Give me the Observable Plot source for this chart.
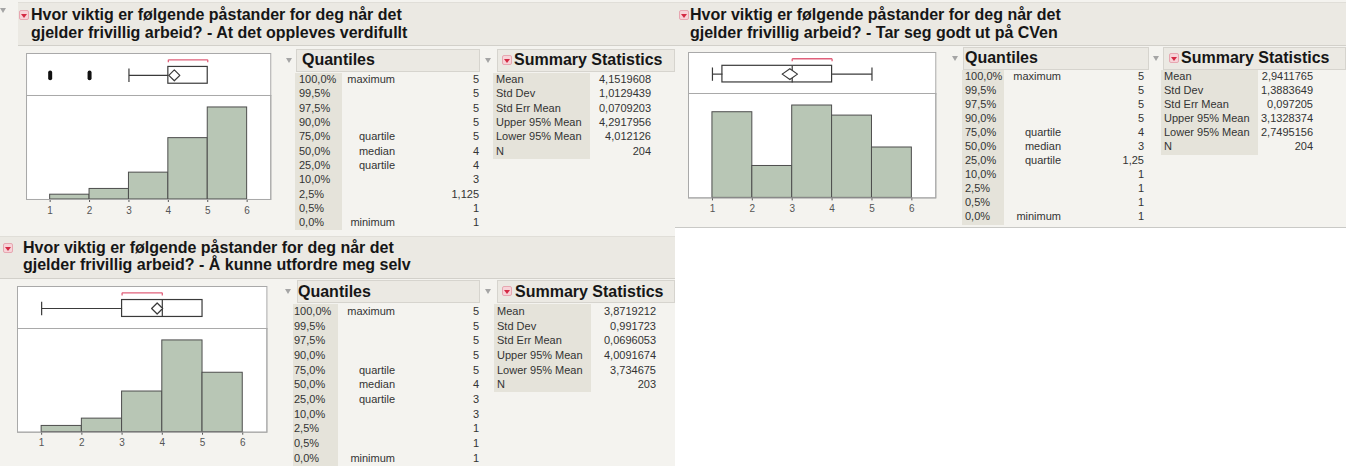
<!DOCTYPE html>
<html><head><meta charset="utf-8">
<script src="https://cdn.jsdelivr.net/npm/d3@7"></script>
<script src="https://cdn.jsdelivr.net/npm/@observablehq/plot@0.6"></script>
<style>
body{margin:0;background:#fff;font-family:"Liberation Sans",Arial,Helvetica,sans-serif;}
#root{position:relative;width:1346px;height:466px;overflow:hidden;background:#fff;}
#root div{box-sizing:border-box;}
</style></head><body><div id="root"></div>
<script>
// ---------------- DATA ----------------
const titleLine1 = "Hvor viktig er følgende påstander for deg når det";
const subtitles = [
  "gjelder frivillig arbeid? - At det oppleves verdifullt",
  "gjelder frivillig arbeid? - Tar seg godt ut på CVen",
  "gjelder frivillig arbeid? - Å kunne utfordre meg selv"
];
const levels = [1, 2, 3, 4, 5];
const xTicks = [1, 2, 3, 4, 5, 6];
const counts1 = [5, 11, 28, 64, 96];
const counts2 = [51, 19, 55, 49, 30];
const counts3 = [6, 13, 39, 88, 57];
// box: lower whisker, Q1, median, Q3, upper whisker
const box1 = [3, 4, 4, 5, 5];
const box2 = [1, 1.25, 3, 4, 5];
const box3 = [1, 3, 4, 5, 5];
// lower 95%, mean, upper 95%
const meanCI1 = [4.012126, 4.1519608, 4.2917956];
const meanCI2 = [2.7495156, 2.9411765, 3.1328374];
const meanCI3 = [3.734675, 3.8719212, 4.0091674];
const shortestHalf1 = [4, 5];
const shortestHalf2 = [3, 4];
const shortestHalf3 = [3, 4];
const outliers1 = [1, 2];
const outliers2 = [];
const outliers3 = [];
const quantilePcts = ["100,0%","99,5%","97,5%","90,0%","75,0%","50,0%","25,0%","10,0%","2,5%","0,5%","0,0%"];
const quantileNames = ["maximum","","","","quartile","median","quartile","","","","minimum"];
const quantiles1 = ["5","5","5","5","5","4","4","3","1,125","1","1"];
const quantiles2 = ["5","5","5","5","4","3","1,25","1","1","1","1"];
const quantiles3 = ["5","5","5","5","5","4","3","3","1","1","1"];
const statNames = ["Mean","Std Dev","Std Err Mean","Upper 95% Mean","Lower 95% Mean","N"];
const stats1 = ["4,1519608","1,0129439","0,0709203","4,2917956","4,012126","204"];
const stats2 = ["2,9411765","1,3883649","0,097205","3,1328374","2,7495156","204"];
const stats3 = ["3,8719212","0,991723","0,0696053","4,0091674","3,734675","203"];

// ---------------- LAYOUT ----------------
const panels = [
  {bg:[0,0,675,236], header:[18,2,657,44], icon:[19,10], titleX:31, titleY:[15,33], outerTri:[3,10],
   frame:{L:25.7,R:270,T:53,D:95,B:198},
   q:{tri:[289,60], band:[296,49,184,23], titleX:302, titleY:60, colBg:[295,73,47,157], pctX:299, nameR:395, valR:479, row0:80, dy:14.3},
   s:{tri:[488,60], icon:[502,55], band:[497,49,178,23], titleX:514, titleY:60, colBg:[493,73,97,86], nameX:496, valR:651, row0:80, dy:14.3},
   counts:counts1, box:box1, ci:meanCI1, sh:shortestHalf1, out:outliers1, quant:quantiles1, stats:stats1, sub:subtitles[0]},
  {bg:[675,0,671,228], header:[675,2,671,44], icon:[679,10], titleX:690, titleY:[15,33],
   frame:{L:687.7,R:935,T:51.7,D:93.3,B:196.7},
   q:{tri:[955,58], band:[963,47,186,23], titleX:965, titleY:58, colBg:[962,70,42,155], pctX:965, nameR:1061, valR:1144, row0:77, dy:14},
   s:{tri:[1156,58], icon:[1169,53], band:[1163,47,183,23], titleX:1181, titleY:58, colBg:[1161,70,97,85], nameX:1164, valR:1313, row0:77, dy:14},
   counts:counts2, box:box2, ci:meanCI2, sh:shortestHalf2, out:outliers2, quant:quantiles2, stats:stats2, sub:subtitles[1]},
  {bg:[0,236,675,230], header:[0,236,675,43], icon:[3,243], titleX:23, titleY:[248,265],
   frame:{L:17.3,R:266.7,T:286,D:328.3,B:431},
   q:{tri:[288,291], band:[297,280,183,23], titleX:298, titleY:291.5, colBg:[293,304,45,162], pctX:294, nameR:395, valR:479, row0:311.7, dy:14.7},
   s:{tri:[488,291], icon:[502,286], band:[497,280,178,23], titleX:515, titleY:291.5, colBg:[494,304,97,88], nameX:497, valR:656, row0:311.7, dy:14.7},
   counts:counts3, box:box3, ci:meanCI3, sh:shortestHalf3, out:outliers3, quant:quantiles3, stats:stats3, sub:subtitles[2]}
];

const root = document.getElementById("root");
function rect(x,y,w,h,style){const d=document.createElement("div");d.style.cssText=`position:absolute;left:${x}px;top:${y}px;width:${w}px;height:${h}px;${style||""}`;root.appendChild(d);return d;}
function text(str,x,y,o={}){
  const size=o.size||11, w=420, align=o.align||"left";
  const left = align==="left"?x:(align==="right"?x-w:x-w/2);
  const d=document.createElement("div");
  d.style.cssText=`position:absolute;left:${left}px;top:${y-size*0.62}px;width:${w}px;height:${size*1.25}px;line-height:${size*1.25}px;font-size:${size}px;font-weight:${o.weight||"normal"};text-align:${align};color:${o.color||"#333"};white-space:nowrap;`;
  d.textContent=str;root.appendChild(d);return d;
}
function triDown(cx,cy,color,w=7,h=5){rect(cx-w/2,cy-h/2,w,h,`width:0;height:0;border-left:${w/2}px solid transparent;border-right:${w/2}px solid transparent;border-top:${h}px solid ${color};`);}
function redIcon(x,y){
  rect(x,y,10,10,"background:#f7d3d8;border:1px solid #e7a7b1;border-radius:2px;");
  rect(x+2,y+3.5,6,4,"width:0;height:0;border-left:3px solid transparent;border-right:3px solid transparent;border-top:4px solid #d42a44;");
}

const XD = [0.4, 6.6];

function boxPlot(p, w, h) {
  const c = 0.48, bh = 0.2, cap = 0.16, dh = 0.13;
  const [wl, q1, med, q3, wu] = p.box;
  const [lo, mean, hi] = p.ci;
  const segs = [
    {x1: wl, x2: q1, y1: c, y2: c},
    {x1: q3, x2: wu, y1: c, y2: c},
    {x1: wl, x2: wl, y1: c - cap, y2: c + cap},
    {x1: wu, x2: wu, y1: c - cap, y2: c + cap},
    {x1: med, x2: med, y1: c - bh, y2: c + bh}
  ].filter(s => !(s.y1 === s.y2 && s.x1 === s.x2) && !(s.x1===s.x2 && (s.x1===q1||s.x1===q3) && s.y2-s.y1<2*bh));
  const diamond = [{x:lo,y:c},{x:mean,y:c+dh},{x:hi,y:c},{x:mean,y:c-dh},{x:lo,y:c}];
  const bracket = [
    {x1:p.sh[0], x2:p.sh[1], y1:0.85, y2:0.85},
    {x1:p.sh[0], x2:p.sh[0], y1:0.85, y2:0.79},
    {x1:p.sh[1], x2:p.sh[1], y1:0.85, y2:0.79}
  ];
  const outs = p.out.map(v => ({x1:v, x2:v, y1:c-0.07, y2:c+0.07}));
  return Plot.plot({
    width: w, height: h, marginTop: 1, marginBottom: 1, marginLeft: 1, marginRight: 1,
    style: {background: "transparent", overflow: "visible"},
    x: {domain: XD, axis: null},
    y: {domain: [0, 1], axis: null},
    marks: [
      Plot.frame({fill: "white", stroke: "#a9a9a9"}),
      Plot.rect([{x1:q1,x2:q3,y1:c-bh,y2:c+bh}], {x1:"x1",x2:"x2",y1:"y1",y2:"y2", fill:"white", stroke:"#3a3a3a", strokeWidth:1.2}),
      Plot.link(segs, {x1:"x1",x2:"x2",y1:"y1",y2:"y2", stroke:"#3a3a3a", strokeWidth:1.2}),
      Plot.line(diamond, {x:"x", y:"y", stroke:"#3a3a3a", strokeWidth:1.2, fill:"white"}),
      Plot.link(bracket, {x1:"x1",x2:"x2",y1:"y1",y2:"y2", stroke:"#e0607a", strokeWidth:1.3}),
      Plot.link(outs, {x1:"x1",x2:"x2",y1:"y1",y2:"y2", stroke:"#111", strokeWidth:4, strokeLinecap:"round"})
    ]
  });
}

function histPlot(p, w, h) {
  const data = levels.map((v, i) => ({x1: v, x2: v + 1, n: p.counts[i]}));
  const ymax = d3.max(p.counts) * 1.13;
  return Plot.plot({
    width: w, height: h, marginTop: 1, marginBottom: 23, marginLeft: 1, marginRight: 1,
    style: {background: "transparent", overflow: "visible", fontFamily: "Liberation Sans, Arial, sans-serif"},
    x: {domain: XD},
    y: {domain: [0, ymax], axis: null},
    marks: [
      Plot.frame({fill: "white", stroke: "#a9a9a9"}),
      Plot.rectY(data, {x1: "x1", x2: "x2", y: "n", fill: "#b8c6b5", stroke: "#4d4d4d", strokeWidth: 1}),
      Plot.axisX({ticks: xTicks, tickFormat: d => String(d), tickSize: 3, tickPadding: 4, fontSize: 10, color: "#555"}),
      Plot.frame({stroke: "#a9a9a9"})
    ]
  });
}

panels.forEach((p, pi) => {
  const [bx, by, bw, bh] = p.bg;
  rect(bx, by, bw, bh, "background:#f4f3ef;" + (pi === 1 ? "border-bottom:1px solid #c9c9c6;" : ""));
  const [hx, hy, hw, hh] = p.header;
  rect(hx, hy, hw, hh, "background:#ebe9e3;border-top:1px solid #e0ded8;border-bottom:1px solid #d2d0ca;");
  if (p.outerTri) triDown(p.outerTri[0], p.outerTri[1], "#a5a5a5", 6, 5);
  redIcon(p.icon[0], p.icon[1]);
  text(titleLine1, p.titleX, p.titleY[0], {size: 16, weight: "bold", color: "#161616"});
  text(p.sub, p.titleX, p.titleY[1], {size: 16, weight: "bold", color: "#161616"});

  // plots
  const f = p.frame;
  const w = f.R - f.L + 2;
  const b = rect(f.L - 1, f.T - 1, w, f.D - f.T + 2, "");
  b.appendChild(boxPlot(p, w, f.D - f.T + 2));
  const hdiv = rect(f.L - 1, f.D - 1, w, f.B - f.D + 25, "");
  hdiv.appendChild(histPlot(p, w, f.B - f.D + 25));

  // Quantiles
  const q = p.q;
  triDown(q.tri[0], q.tri[1], "#a5a5a5", 6, 5);
  rect(q.band[0], q.band[1], q.band[2], q.band[3], "background:#ebe9e3;border:1px solid #d6d4ce;");
  text("Quantiles", q.titleX, q.titleY, {size: 16, weight: "bold", color: "#161616"});
  rect(q.colBg[0], q.colBg[1], q.colBg[2], q.colBg[3], "background:#e5e3da;");
  quantilePcts.forEach((s, i) => {
    const y = q.row0 + i * q.dy;
    text(s, q.pctX, y, {size: 11});
    if (quantileNames[i]) text(quantileNames[i], q.nameR, y, {size: 11, align: "right"});
    text(p.quant[i], q.valR, y, {size: 11, align: "right"});
  });

  // Summary Statistics
  const s = p.s;
  triDown(s.tri[0], s.tri[1], "#a5a5a5", 6, 5);
  rect(s.band[0], s.band[1], s.band[2], s.band[3], "background:#ebe9e3;border:1px solid #d6d4ce;");
  redIcon(s.icon[0], s.icon[1]);
  text("Summary Statistics", s.titleX, s.titleY, {size: 16, weight: "bold", color: "#161616"});
  rect(s.colBg[0], s.colBg[1], s.colBg[2], s.colBg[3], "background:#e5e3da;");
  statNames.forEach((n, i) => {
    const y = s.row0 + i * s.dy;
    text(n, s.nameX, y, {size: 11});
    text(p.stats[i], s.valR, y, {size: 11, align: "right"});
  });
});
</script></body></html>
